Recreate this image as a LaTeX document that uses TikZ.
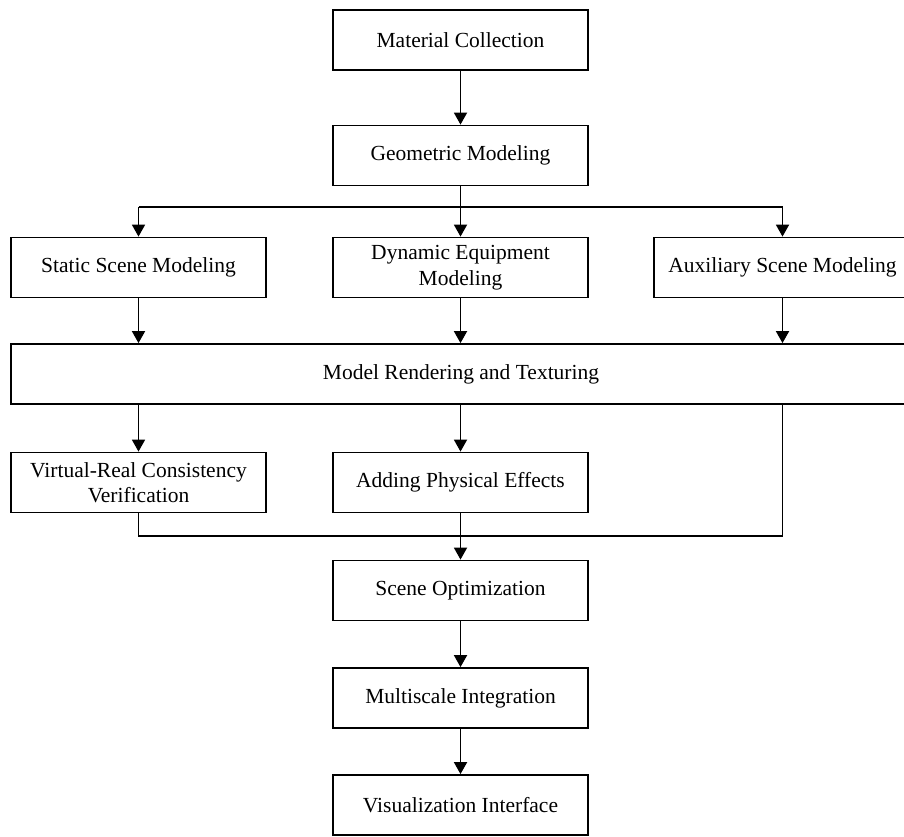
\documentclass[tikz,border=0pt]{standalone}
\usepackage{fontspec}
\setmainfont{Liberation Serif}
\usetikzlibrary{arrows.meta,calc}
\begin{document}
\begin{tikzpicture}[x=1pt,y=-1pt,
  stepbox/.style={draw, line width=1.8pt, rectangle, minimum width=255pt, minimum height=60pt,
    inner sep=0pt, align=center, font=\fontsize{21.5}{25.5}\selectfont},
  link/.style={line width=1.8pt},
  flow/.style={link, -{Triangle[length=12pt,width=13pt]}}]
\useasboundingbox (0,0) rectangle (904,836);
% main column
\node[stepbox] (mc) at (460.5,40) {Material Collection};
\node[stepbox] (gm) at (460.5,155.5) {Geometric Modeling};
% modelling branches
\node[stepbox] (ss) at (138.5,267.5) {Static Scene Modeling};
\node[stepbox] (de) at (460.5,267.5) {Dynamic Equipment\\Modeling};
\node[stepbox, minimum width=257pt] (aux) at (782.5,267.5) {Auxiliary Scene Modeling};
% wide rendering stage
\node[stepbox, minimum width=900pt] (mr) at (461,374) {Model Rendering and Texturing};
% follow-up stages
\node[stepbox] (vr) at (138.5,482.5) {Virtual-Real Consistency\\Verification};
\node[stepbox] (ap) at (460.5,482.5) {Adding Physical Effects};
\node[stepbox] (so) at (460.5,590.5) {Scene Optimization};
\node[stepbox] (mi) at (460.5,698) {Multiscale Integration};
\node[stepbox] (vi) at (460.5,805) {Visualization Interface};
% junction points
\coordinate (split) at (460.5,207);
\coordinate (merge) at (460.5,536);
% connectors
\draw[flow] (mc) -- (gm);
\draw[link] (gm.south) -- (split);
\draw[link] (ss.north |- split) -- (aux.north |- split);
\draw[flow] (ss.north |- split) -- (ss.north);
\draw[flow] (split) -- (de.north);
\draw[flow] (aux.north |- split) -- (aux.north);
\draw[flow] (ss.south) -- (ss.south |- mr.north);
\draw[flow] (de.south) -- (de.south |- mr.north);
\draw[flow] (aux.south) -- (aux.south |- mr.north);
\draw[flow] (vr.north |- mr.south) -- (vr.north);
\draw[flow] (ap.north |- mr.south) -- (ap.north);
\draw[link] (vr.south) |- (merge);
\draw[link] (aux.south |- mr.south) |- (merge);
\draw[flow] (ap.south) -- (so.north);
\draw[flow] (so) -- (mi);
\draw[flow] (mi) -- (vi);
\end{tikzpicture}
\end{document}
